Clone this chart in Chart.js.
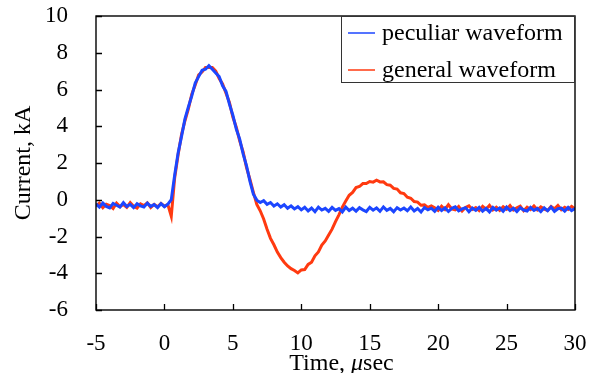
<!DOCTYPE html>
<html>
<head>
<meta charset="utf-8">
<script src="https://cdn.jsdelivr.net/npm/chart.js@4/dist/chart.umd.min.js"></script>
<style>
html,body{margin:0;padding:0;background:#fff;}
#wrap{width:594px;height:373px;}
</style>
</head>
<body>
<div id="wrap"><canvas id="c" width="594" height="373"></canvas></div>
<script>
// ---- data ----
const timeUs = [-5,-4.75,-4.5,-4.25,-4,-3.75,-3.5,-3.25,-3,-2.75,-2.5,-2.25,-2,-1.75,-1.5,-1.25,-1,-0.75,-0.5,-0.25,0,0.25,0.5,0.75,1,1.25,1.5,1.75,2,2.25,2.5,2.75,3,3.25,3.5,3.75,4,4.25,4.5,4.75,5,5.25,5.5,5.75,6,6.25,6.5,6.75,7,7.25,7.5,7.75,8,8.25,8.5,8.75,9,9.25,9.5,9.75,10,10.25,10.5,10.75,11,11.25,11.5,11.75,12,12.25,12.5,12.75,13,13.25,13.5,13.75,14,14.25,14.5,14.75,15,15.25,15.5,15.75,16,16.25,16.5,16.75,17,17.25,17.5,17.75,18,18.25,18.5,18.75,19,19.25,19.5,19.75,20,20.25,20.5,20.75,21,21.25,21.5,21.75,22,22.25,22.5,22.75,23,23.25,23.5,23.75,24,24.25,24.5,24.75,25,25.25,25.5,25.75,26,26.25,26.5,26.75,27,27.25,27.5,27.75,28,28.25,28.5,28.75,29,29.25,29.5,29.75,30];

const peculiarKA = [
  -0.22,-0.4,-0.18,-0.36,-0.44,-0.2,-0.3,-0.4,-0.16,-0.37,-0.25,-0.43,-0.22,-0.33,-0.4,-0.19,-0.36,-0.26,-0.43,-0.21,-0.38,-0.24,
  0.0,
  1.35,2.55,3.45,4.4,5.05,5.65,6.35,6.7,7.05,7.1,7.3,7.1,6.9,6.7,6.2,5.9,5.2,4.6,3.85,3.3,2.5,1.85,1.0,0.3,
  -0.02,-0.15,-0.05,-0.25,-0.15,-0.34,-0.22,-0.4,-0.27,-0.46,-0.33,-0.5,-0.38,-0.55,
  -0.41,-0.61,-0.45,-0.65,-0.4,-0.56,-0.47,-0.63,-0.42,-0.58,
  -0.48,-0.66,-0.4,-0.59,-0.46,-0.62,-0.43,-0.55,-0.64,-0.41,
  -0.57,-0.44,-0.63,-0.39,-0.58,-0.47,-0.65,-0.43,-0.56,-0.45,
  -0.6,-0.4,-0.61,-0.48,-0.67,-0.42,-0.55,-0.46,-0.63,-0.41,
  -0.59,-0.44,-0.64,-0.47,-0.39,-0.6,-0.5,-0.43,-0.65,-0.45,
  -0.58,-0.41,-0.62,-0.47,-0.66,-0.42,-0.57,-0.44,-0.63,-0.4,
  -0.59,-0.46,-0.64,-0.43,-0.56,-0.61,-0.41,-0.58,-0.47,-0.65,
  -0.44,-0.6,-0.4,-0.63,-0.49,-0.45,-0.62,-0.42,-0.59,-0.48
];

const generalKA = [
  -0.34,-0.19,-0.43,-0.24,-0.32,-0.48,-0.18,-0.37,-0.26,-0.41,-0.15,-0.35,-0.45,-0.22,-0.32,-0.17,-0.42,-0.25,-0.38,-0.2,-0.35,-0.26,
  -0.9,
  1.2,2.45,3.55,4.3,4.95,5.75,6.25,6.8,6.95,7.2,7.2,7.2,7.0,6.6,6.3,5.8,5.3,4.5,3.95,3.2,2.6,1.75,1.1,0.4,
  -0.25,-0.6,-1.05,-1.6,-2.1,-2.45,-2.85,-3.15,-3.4,-3.6,-3.75,-3.85,-3.98,-3.82,
  -3.8,-3.52,-3.4,-3.05,-2.84,-2.47,-2.24,-1.92,-1.6,-1.19,-0.82,-0.4,
  -0.07,0.24,0.4,0.66,0.72,0.88,0.88,0.99,0.96,1.06,0.97,0.98,
  0.82,0.79,0.62,0.58,0.38,0.34,0.14,0.08,-0.1,-0.13,-0.3,-0.28,
  -0.42,-0.34,
  -0.44,-0.58,-0.35,-0.53,-0.27,-0.5,-0.55,-0.37,-0.61,-0.42,
  -0.33,-0.53,-0.43,-0.59,-0.36,-0.51,-0.3,-0.55,-0.41,-0.58,
  -0.38,-0.52,-0.32,-0.56,-0.44,-0.35,-0.6,-0.41,-0.53,-0.34,
  -0.55,-0.39,-0.51,-0.58,-0.37,-0.49,-0.31,-0.54,-0.41,-0.52,
  -0.36,-0.5
];

const seriesLabels = ['peculiar waveform', 'general waveform'];
const xTitleParts = ['Time, ', '\u03bc', 'sec'];
const yTitle = 'Current, kA';

// ---- styling ----
const SERIF = "'Liberation Serif', 'Times New Roman', serif";
const BLUE = '#1c46ff';
const RED = '#ff3a10';

const toPoints = (ys) => ys.map((y, i) => ({x: timeUs[i], y: y}));

const frameTicks = {
  id: 'frameTicks',
  afterDatasetsDraw(chart) {
    const ctx = chart.ctx, a = chart.chartArea;
    const xs = chart.scales.x, ys = chart.scales.y;
    ctx.save();
    ctx.strokeStyle = '#000';
    ctx.lineWidth = 1.3;
    ctx.beginPath();
    xs.ticks.forEach(t => {
      const px = Math.round(xs.getPixelForValue(t.value)) + 0.5;
      ctx.moveTo(px, a.bottom); ctx.lineTo(px, a.bottom - 6);
    });
    ys.ticks.forEach(t => {
      const py = Math.round(ys.getPixelForValue(t.value)) + 0.5;
      ctx.moveTo(a.left, py); ctx.lineTo(a.left + 6, py);
    });
    ctx.stroke();
    ctx.lineWidth = 1.4;
    ctx.strokeRect(a.left, a.top, a.right - a.left, a.bottom - a.top);

    // legend box
    const lx = 341, ly = a.top, lw = a.right - lx, lh = 66;
    ctx.fillStyle = '#fff';
    ctx.fillRect(lx, ly, lw, lh);
    ctx.lineWidth = 1;
    ctx.strokeStyle = '#333';
    ctx.strokeRect(lx + 0.5, ly + 0.5, lw - 1, lh);
    ctx.font = '24px ' + SERIF;
    ctx.textBaseline = 'alphabetic';
    ctx.textAlign = 'left';
    chart.data.datasets.forEach((ds, i) => {
      const cy = ly + 17 + i * 37;
      ctx.strokeStyle = ds.borderColor;
      ctx.lineWidth = 1.5;
      ctx.beginPath();
      ctx.moveTo(lx + 7, cy); ctx.lineTo(lx + 34, cy);
      ctx.stroke();
      ctx.fillStyle = '#000';
      ctx.fillText(ds.label, lx + 41, cy + 7);
    });

    // x-axis title with italic mu
    ctx.font = '24px ' + SERIF;
    const w0 = ctx.measureText(xTitleParts[0]).width;
    ctx.font = 'italic 24px ' + SERIF;
    const w1 = ctx.measureText(xTitleParts[1]).width;
    ctx.font = '24px ' + SERIF;
    const w2 = ctx.measureText(xTitleParts[2]).width;
    let tx = (a.left + a.right) / 2 + 6 - (w0 + w1 + w2) / 2;
    const ty = 370;
    ctx.fillStyle = '#000';
    ctx.fillText(xTitleParts[0], tx, ty); tx += w0;
    ctx.font = 'italic 24px ' + SERIF;
    ctx.fillText(xTitleParts[1], tx, ty); tx += w1;
    ctx.font = '24px ' + SERIF;
    ctx.fillText(xTitleParts[2], tx, ty);
    ctx.restore();
  }
};

function noPad(s) { s.paddingLeft = 0; s.paddingRight = 0; s.paddingTop = 0; s.paddingBottom = 0; }

new Chart(document.getElementById('c'), {
  type: 'line',
  data: {
    datasets: [
      {label: seriesLabels[0], data: toPoints(peculiarKA), borderColor: BLUE, borderWidth: 3, pointRadius: 0, tension: 0, fill: false},
      {label: seriesLabels[1], data: toPoints(generalKA), borderColor: RED, borderWidth: 3, pointRadius: 0, tension: 0, fill: false}
    ]
  },
  options: {
    responsive: false,
    devicePixelRatio: 1,
    animation: false,
    layout: {padding: {top: 16, right: 19, left: 0, bottom: 0}},
    plugins: {legend: {display: false}, tooltip: {enabled: false}},
    scales: {
      x: {
        type: 'linear', min: -5, max: 30,
        grid: {display: false, drawTicks: false},
        border: {display: false},
        ticks: {stepSize: 5, color: '#000', padding: 20, maxRotation: 0, font: {family: SERIF, size: 23}},
        afterFit(s) { s.height = 63; noPad(s); }
      },
      y: {
        min: -6, max: 10,
        grid: {display: false, drawTicks: false},
        border: {display: false},
        ticks: {stepSize: 2, color: '#000', padding: 28, font: {family: SERIF, size: 23}},
        title: {display: true, text: yTitle, color: '#000', font: {family: SERIF, size: 24}, padding: {top: 9, bottom: 0}},
        afterFit(s) { s.width = 96; noPad(s); }
      }
    }
  },
  plugins: [frameTicks]
});
</script>
</body>
</html>
